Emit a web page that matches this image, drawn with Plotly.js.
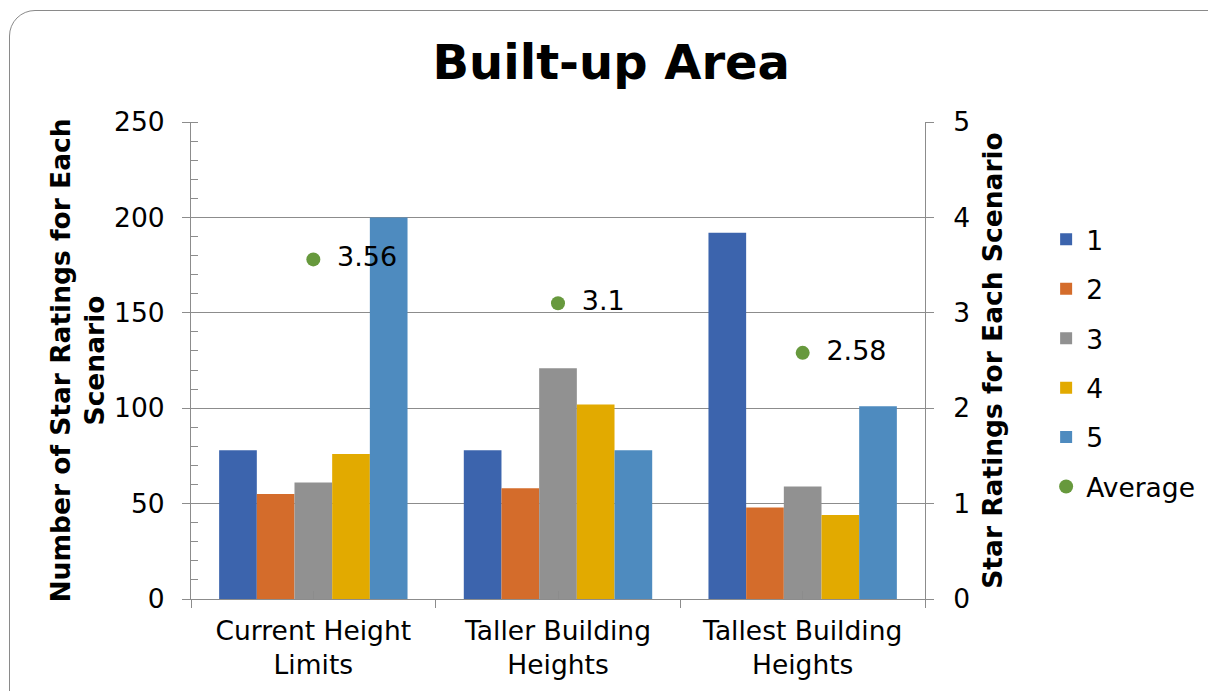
<!DOCTYPE html>
<html><head><meta charset="utf-8">
<script src="https://cdn.plot.ly/plotly-3.0.1.min.js"></script>
<style>
html,body{margin:0;padding:0;background:#fff;}
#wrap{position:relative;width:1208px;height:691px;overflow:hidden;}
#chart{width:1208px;height:691px;}
#frame{position:absolute;left:9px;top:10px;width:1240px;height:720px;border:1.5px solid #8a8a8a;border-radius:26px;pointer-events:none;box-sizing:border-box;}
</style></head>
<body><div id="wrap"><div id="chart"></div><div id="frame"></div></div>
<script>
const categories = ["Current Height<br>Limits", "Taller Building<br>Heights", "Tallest Building<br>Heights"];
const seriesNames = ["1", "2", "3", "4", "5"];
const rating1 = [78, 78, 192];
const rating2 = [55, 58, 48];
const rating3 = [61, 121, 59];
const rating4 = [76, 102, 44];
const rating5 = [200, 78, 101];
const average = [3.56, 3.1, 2.58];
const averageLabels = ["3.56", "3.1", "2.58"];
const colors = ["#3C64AD", "#D46C2B", "#919191", "#E2AA00", "#4E8BBF"];
const avgColor = "#67993D";

const FONT = "DejaVu Sans, Verdana, sans-serif";
const FS = 26.5;
const seriesValues = [rating1, rating2, rating3, rating4, rating5];
const traces = seriesValues.map((vals, i) => ({
  type: "bar", x: categories, y: vals, name: seriesNames[i], legendgroup: "g" + i,
  marker: {color: colors[i]}, xaxis: "x", yaxis: "y"
}));
traces.push({
  type: "scatter", mode: "markers+text", x: categories, y: average,
  text: averageLabels, texttemplate: " \u2009%{text}", textposition: "middle right",
  textfont: {family: FONT, size: 27, color: "#000"},
  name: "Average", legendgroup: "avg", marker: {color: avgColor, size: 14},
  xaxis: "x", yaxis: "y2", cliponaxis: false
});
// invisible trace to carry center tick marks
traces.push({type: "scatter", mode: "none", x: categories, y: [0,0,0], xaxis: "x2", yaxis: "y", showlegend: false, hoverinfo: "skip"});

const layout = {
  width: 1208, height: 691,
  paper_bgcolor: "#fff", plot_bgcolor: "#fff",
  margin: {l: 191, r: 283, t: 122, b: 92, autoexpand: false},
  font: {family: FONT, size: FS, color: "#000"},
  title: {text: "<b>Built-up Area</b>", font: {family: FONT, size: 48, color: "#000"}, x: 0.506, xanchor: "center", y: 0.91, yanchor: "middle"},
  barmode: "group", bargap: 0.23, bargroupgap: 0,
  showlegend: true,
  legend: {xref: "container", yref: "container", x: 0.866, xanchor: "left", y: 0.688, yanchor: "top", font: {family: FONT, size: FS, color: "#000"}, tracegroupgap: 12, itemwidth: 30, bgcolor: "rgba(0,0,0,0)"},
  xaxis: {
    type: "category", tickson: "boundaries", ticks: "outside", ticklen: 8, tickcolor: "#8c8c8c",
    showline: true, linecolor: "#8c8c8c", linewidth: 1, showgrid: false, automargin: false,
    tickfont: {family: FONT, size: FS, color: "#000"}, ticklabelstandoff: 8
  },
  xaxis2: {
    type: "category", overlaying: "x", matches: "x", side: "bottom", ticks: "inside", ticklen: 8, tickcolor: "#8c8c8c",
    showticklabels: false, showline: false, showgrid: false, automargin: false
  },
  yaxis: {
    range: [0, 250], dtick: 50, ticks: "outside", ticklen: 8, tickcolor: "#8c8c8c",
    showline: true, linecolor: "#8c8c8c", linewidth: 1, automargin: false,
    showgrid: true, gridcolor: "#8c8c8c", gridwidth: 1, zeroline: false,
    minor: {dtick: 10, ticks: "inside", ticklen: 7, tickcolor: "#8c8c8c", showgrid: false},
    tickfont: {family: FONT, size: FS, color: "#000"}, ticklabelstandoff: 12,
    title: {text: "<b>Number of Star Ratings for Each<br>Scenario</b>", font: {family: FONT, size: FS, color: "#000"}, standoff: 1}
  },
  yaxis2: {
    range: [0, 5], dtick: 1, overlaying: "y", side: "right", ticks: "outside", ticklen: 8, tickcolor: "#8c8c8c",
    showline: true, linecolor: "#8c8c8c", linewidth: 1, showgrid: false, zeroline: false, automargin: false,
    tickfont: {family: FONT, size: FS, color: "#000"}, ticklabelstandoff: 14,
    title: {text: "<b>Star Ratings for Each Scenario</b>", font: {family: FONT, size: FS, color: "#000"}, standoff: 14}
  }
};
Plotly.newPlot("chart", traces, layout, {displayModeBar: false, staticPlot: true});
</script></body></html>
